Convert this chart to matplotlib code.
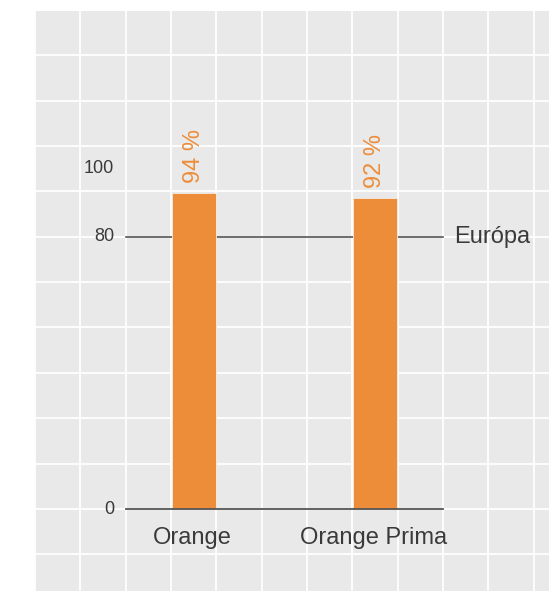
import matplotlib.pyplot as plt
import numpy as np

# datos
categorias = ['Orange', 'Orange Prima']
valores = [92.9, 91.45]
etiquetas = ['94 %', '92 %']
referencia = 80
ref_nombre = 'Európa'
yticks = [0, 80, 100]

naranja = '#ED8D3A'
gris_fondo = '#E8E9E8'
texto = '#3A3A3A'
plt.rcParams['font.family'] = ['Liberation Sans', 'DejaVu Sans']

fig = plt.figure(figsize=(5.49, 5.91), dpi=100)
W, H = 549, 591
# zona gris: x 35..549, y 10.7..591 (px)
ax = fig.add_axes([35 / W, 0, 1 - 35 / W, (H - 10.7) / H])
ax.set_facecolor(gris_fondo)
for s in ax.spines.values():
    s.set_visible(False)

px_x = 45.33  # px por unidad x
px_y = 3.404  # px por unidad y
cx = 193.7    # centro de la primera barra en px
x0 = -(cx - 35) / px_x
x1 = (W - cx) / px_x
y0 = -(H - 509) / px_y
y1 = (509 - 10.7) / px_y
ax.set_xlim(x0, x1)
ax.set_ylim(y0, y1)

# cuadricula blanca
for gx in np.arange(-3.5, x1, 1):
    ax.axvline(gx, color='white', lw=1.3, zorder=0)
for gy in np.arange(-2, 12) * 40 / 3:
    ax.axhline(gy, color='white', lw=1.3, zorder=0)

pos = [0, 4]
ax.bar(pos, valores, width=0.97, color=naranja, edgecolor='#F3EDE6', lw=0.6, zorder=3)

# linea de referencia y base
ax.plot([-1.5, 5.5], [referencia, referencia], color='#555555', lw=1.2, zorder=2)
ax.plot([-1.5, 5.5], [0, 0], color='#555555', lw=1.3, zorder=4)
ax.text(5.74, referencia, ref_nombre, ha='left', va='center', fontsize=17, color=texto)

for t in yticks:
    ax.text(-1.76, t, str(t), ha='right', va='center', fontsize=13, color=texto)

for p, v, lab, cat in zip(pos, valores, etiquetas, categorias):
    ax.text(p, v + 2.8, lab, rotation=90, ha='center', va='bottom',
            fontsize=17, color=naranja)
    ax.text(p - 0.04, -10.3, cat, ha='center', va='baseline', fontsize=17, color=texto)

ax.set_xticks([])
ax.set_yticks([])

plt.savefig('out.png', dpi=100)
